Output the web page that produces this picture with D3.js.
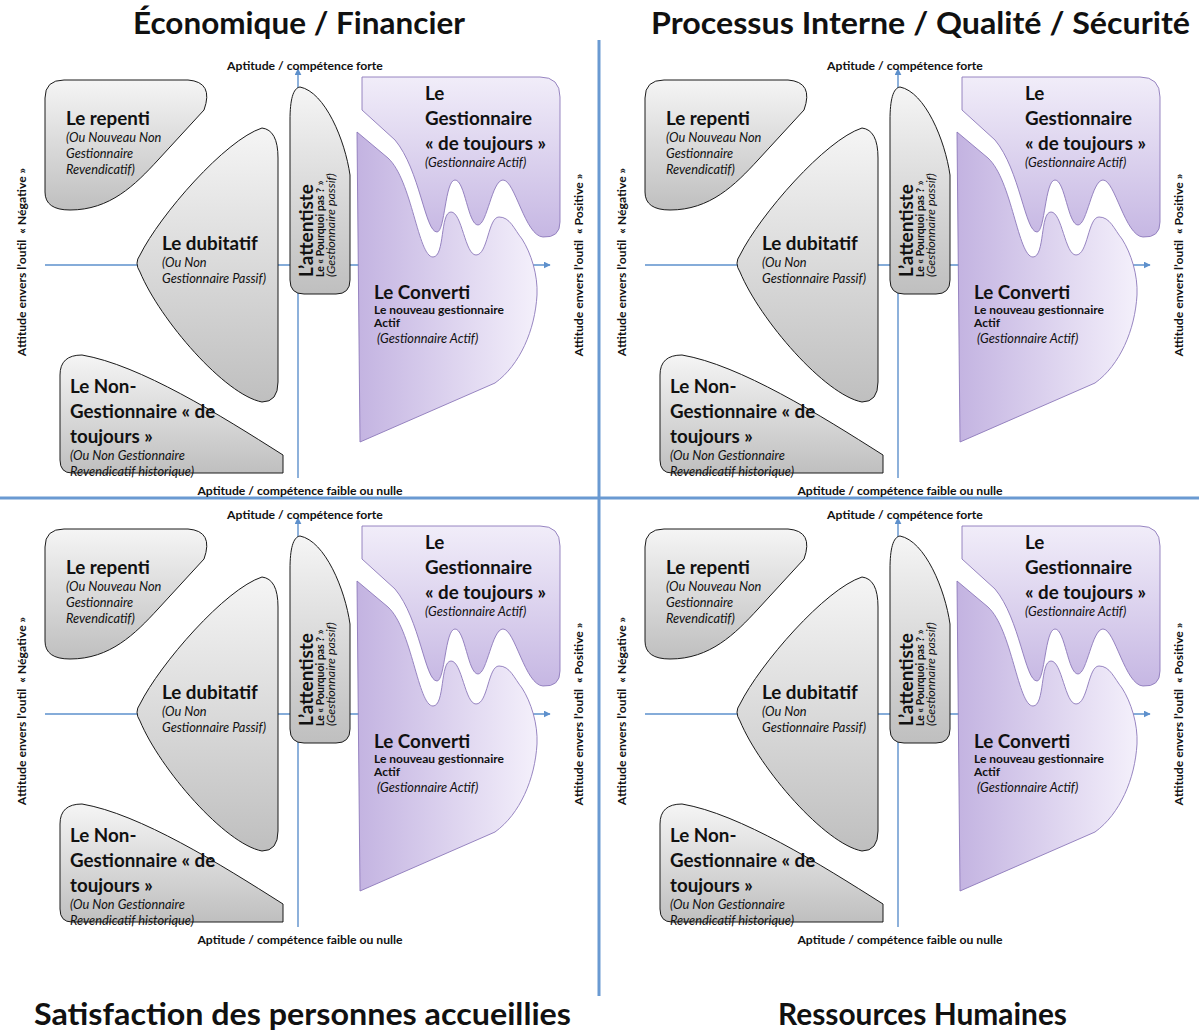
<!DOCTYPE html>
<html>
<head>
<meta charset="utf-8">
<script src="https://cdn.jsdelivr.net/npm/d3@7"></script>
<style>
  html, body { margin: 0; padding: 0; background: #fff; }
  svg { display: block; font-family: Lato, "Open Sans", sans-serif; }
</style>
</head>
<body>
<svg id="chart" width="1199" height="1032"></svg>
<script>
(function () {
  'use strict';

  /* data: titles, labels, outlines (attitude on x, aptitude on y, origin at the axes crossing) */
  const quadrantTitles = [
    'Économique / Financier',
    'Processus Interne / Qualité / Sécurité',
    'Satisfaction des personnes accueillies',
    'Ressources Humaines'
  ];
  const axisLabels = [
    'Aptitude / compétence forte',
    'Aptitude / compétence faible ou nulle',
    'Attitude envers l’outil\u00a0\u00a0«\u00a0Négative\u00a0»',
    'Attitude envers l’outil\u00a0\u00a0«\u00a0Positive\u00a0»'
  ];
  const attitudeDomain = [-253, 253];
  const aptitudeDomain = [-210, 210];

  const repentiOutline = [
    ['M', -253, 167], ['Q', -253, 185, -234, 185], ['L', -110, 185],
    ['Q', -84, 183, -94, 155], ['L', -140, 105],
    ['C', -163, 80, -188, 55, -228, 55], ['Q', -253, 55, -253, 73], ['Z']
  ];
  const dubitatifOutline = [
    ['M', -36, 137], ['Q', -20, 135, -20, 107], ['L', -20, -117],
    ['Q', -20, -137, -36, -137], ['C', -73, -130, -138, -55, -158, -7],
    ['Q', -164, 2, -158, 10], ['C', -138, 50, -73, 125, -36, 137], ['Z']
  ];
  const nonGestionnaireOutline = [
    ['M', -238, -110], ['Q', -238, -90, -216, -90],
    ['C', -158, -100, -78, -150, -15, -190], ['L', -15, -208],
    ['L', -226, -208], ['Q', -238, -208, -238, -195], ['Z']
  ];
  const attentisteOutline = [
    ['M', 2, 178], ['C', 27, 173, 47, 125, 52, 90], ['L', 52, -15],
    ['Q', 52, -29, 38, -29], ['L', 6, -29], ['Q', -8, -29, -8, -15],
    ['L', -8, 145], ['C', -8, 165, -5, 177, 2, 178], ['Z']
  ];
  const gestionnaireOutline = [
    ['M', 64, 188], ['L', 242, 188], ['Q', 262, 188, 262, 168], ['L', 262, 43],
    ['Q', 262, 27, 245, 28], ['C', 227, 29, 217, 85, 205, 85],
    ['C', 194, 85, 189, 40, 180, 40], ['C', 170, 40, 167, 85, 157, 85],
    ['C', 147, 85, 147, 33, 139, 33], ['C', 127, 33, 122, 95, 97, 125],
    ['L', 64, 155], ['Z']
  ];
  const convertiOutline = [
    ['M', 59, 133], ['L', 90, 107], ['C', 114, 85, 120, 8, 135, 8],
    ['C', 147, 8, 142, 53, 153, 53], ['C', 164, 53, 167, 10, 178, 10],
    ['C', 190, 10, 190, 48, 201, 48], ['C', 212, 48, 216, 36, 224, 26],
    ['C', 233, 12, 240, -10, 239, -30], ['C', 237, -65, 222, -100, 197, -118],
    ['L', 62, -177], ['Z']
  ];

  const repentiText = [
    ['name', 'Le repenti'], ['note', '(Ou Nouveau Non'], ['note', 'Gestionnaire'], ['note', 'Revendicatif)']
  ];
  const dubitatifText = [
    ['name', 'Le dubitatif'], ['note', '(Ou Non'], ['note', 'Gestionnaire Passif)']
  ];
  const nonGestionnaireText = [
    ['name', 'Le Non-'], ['name', 'Gestionnaire « de'], ['name', 'toujours »'],
    ['note', '(Ou Non Gestionnaire'], ['note', 'Revendicatif historique)']
  ];
  const gestionnaireText = [
    ['name', 'Le'], ['name', 'Gestionnaire'], ['name', '« de toujours »'], ['note', '(Gestionnaire Actif)']
  ];
  const convertiText = [
    ['name', 'Le Converti'], ['sub', 'Le nouveau gestionnaire'], ['sub', 'Actif'],
    ['note', '\u00a0(Gestionnaire Actif)']
  ];
  const attentisteText = [
    ['name', 'L’attentiste'], ['sub', 'Le « Pourquoi pas ? »'], ['note', '(Gestionnaire passif)']
  ];

  /* profile order: outline, text, label anchor (data units) */
  const profiles = [
    { id: 'repenti', outline: repentiOutline, text: repentiText, at: [-232, 140], fill: 'gray' },
    { id: 'dubitatif', outline: dubitatifOutline, text: dubitatifText, at: [-136, 15], fill: 'gray' },
    { id: 'nonGestionnaire', outline: nonGestionnaireOutline, text: nonGestionnaireText, at: [-228, -128], fill: 'gray' },
    { id: 'attentiste', outline: attentisteOutline, text: attentisteText, at: [15, -12], fill: 'gray', vertical: true },
    { id: 'gestionnaire', outline: gestionnaireOutline, text: gestionnaireText, at: [127, 165], fill: 'lilacTop' },
    { id: 'converti', outline: convertiOutline, text: convertiText, at: [76, -34], fill: 'lilacSide' }
  ];

  const panelOrigins = [[0, 0], [600, 0], [0, 449], [600, 449]];
  const AXIS = '#5d90cc';
  const DIVIDER = '#6a9ad2';

  const svg = d3.select('#chart');
  const defs = svg.append('defs');

  function gradient(id, x2, y2, stops) {
    const g = defs.append('linearGradient').attr('id', id)
      .attr('x1', 0).attr('y1', 0).attr('x2', x2).attr('y2', y2);
    stops.forEach(function (s) {
      g.append('stop').attr('offset', s[0]).attr('stop-color', s[1]);
    });
  }
  gradient('gray', 0, 1, [[0, '#f5f5f5'], [1, '#bfbfbf']]);
  gradient('lilacTop', 0, 1, [[0, '#f1edf9'], [1, '#c6b7e3']]);
  gradient('lilacSide', 1, 0, [[0, '#c3b3e1'], [1, '#f4f0fb']]);

  defs.append('marker')
    .attr('id', 'arrow')
    .attr('viewBox', '0 0 10 10')
    .attr('refX', 9).attr('refY', 5)
    .attr('markerWidth', 7).attr('markerHeight', 7)
    .attr('markerUnits', 'userSpaceOnUse')
    .attr('orient', 'auto')
    .append('path')
    .attr('d', 'M0,0 L10,5 L0,10 Z')
    .attr('fill', AXIS);

  /* dividers between the four quadrants */
  svg.append('line')
    .attr('x1', 599).attr('x2', 599).attr('y1', 40).attr('y2', 996)
    .attr('stroke', DIVIDER).attr('stroke-width', 3);
  svg.append('line')
    .attr('x1', 0).attr('x2', 1199).attr('y1', 498).attr('y2', 498)
    .attr('stroke', DIVIDER).attr('stroke-width', 3);

  function outlinePath(cmds, x, y) {
    const p = d3.path();
    cmds.forEach(function (c) {
      const v = c.slice(1);
      if (c[0] === 'M') p.moveTo(x(v[0]), y(v[1]));
      else if (c[0] === 'L') p.lineTo(x(v[0]), y(v[1]));
      else if (c[0] === 'Q') p.quadraticCurveTo(x(v[0]), y(v[1]), x(v[2]), y(v[3]));
      else if (c[0] === 'C') p.bezierCurveTo(x(v[0]), y(v[1]), x(v[2]), y(v[3]), x(v[4]), y(v[5]));
      else p.closePath();
    });
    return p.toString();
  }

  const fontFor = {
    name: { size: 18.8, weight: 'bold', style: 'normal' },
    sub: { size: 12, weight: 'bold', style: 'normal' },
    note: { size: 12.8, weight: 'normal', style: 'italic' }
  };
  const verticalSize = { name: 19, sub: 10.5, note: 12.4 };

  function drawPanel(origin) {
    const x = d3.scaleLinear().domain(attitudeDomain).range([origin[0] + 45, origin[0] + 551]);
    const y = d3.scaleLinear().domain(aptitudeDomain).range([origin[1] + 475, origin[1] + 55]);
    const g = svg.append('g');

    g.append('line')
      .attr('x1', x(-253)).attr('x2', x(252)).attr('y1', y(0)).attr('y2', y(0))
      .attr('stroke', AXIS).attr('stroke-width', 1.4).attr('marker-end', 'url(#arrow)');
    g.append('line')
      .attr('x1', x(0)).attr('x2', x(0)).attr('y1', y(-213)).attr('y2', y(196))
      .attr('stroke', AXIS).attr('stroke-width', 1.4).attr('marker-end', 'url(#arrow)');

    profiles.forEach(function (p) {
      const lilac = p.fill !== 'gray';
      g.append('path')
        .attr('d', outlinePath(p.outline, x, y))
        .attr('fill', 'url(#' + p.fill + ')')
        .attr('stroke', lilac ? '#8c78ba' : '#1a1a1a')
        .attr('stroke-width', lilac ? 0.9 : 1);
    });

    profiles.forEach(function (p) {
      let offset = 0;
      let prev = null;
      p.text.forEach(function (line) {
        const kind = line[0];
        if (prev !== null) {
          if (p.vertical) offset += kind === 'sub' ? 10.5 : 11.5;
          else if (kind === 'name') offset += 25;
          else if (kind === 'sub') offset += prev === 'name' ? 14.5 : 13.8;
          else offset += prev === 'name' ? 17 : 16;
        }
        prev = kind;
        const f = fontFor[kind];
        const t = g.append('text')
          .text(line[1])
          .attr('font-size', p.vertical ? verticalSize[kind] : f.size)
          .attr('font-weight', f.weight)
          .attr('font-style', f.style)
          .attr('fill', '#111');
        if (p.vertical) {
          t.attr('transform', 'translate(' + (x(p.at[0]) + offset) + ',' + y(p.at[1]) + ') rotate(-90)');
        } else {
          t.attr('x', x(p.at[0])).attr('y', y(p.at[1]) + offset);
        }
      });
    });

    function label(txt) {
      return g.append('text').text(txt)
        .attr('text-anchor', 'middle')
        .attr('font-size', 12.2)
        .attr('font-weight', 'bold')
        .attr('fill', '#111');
    }
    label(axisLabels[0]).attr('x', x(7)).attr('y', y(195));
    label(axisLabels[1]).attr('x', x(2)).attr('y', y(-230));
    label(axisLabels[2]).attr('transform', 'translate(' + x(-272) + ',' + y(3) + ') rotate(-90)');
    label(axisLabels[3]).attr('transform', 'translate(' + x(285) + ',' + y(0) + ') rotate(-90)');
  }

  panelOrigins.forEach(drawPanel);

  /* quadrant titles */
  const titleSpots = [[133, 34, 332], [651, 34, 539], [34, 1025, 537], [778, 1025, 289]];
  quadrantTitles.forEach(function (t, i) {
    svg.append('text')
      .text(t)
      .attr('x', titleSpots[i][0])
      .attr('y', titleSpots[i][1])
      .attr('textLength', titleSpots[i][2])
      .attr('lengthAdjust', 'spacingAndGlyphs')
      .attr('font-size', 30)
      .attr('font-weight', 'bold')
      .attr('fill', '#111');
  });
}());
</script>
</body>
</html>
